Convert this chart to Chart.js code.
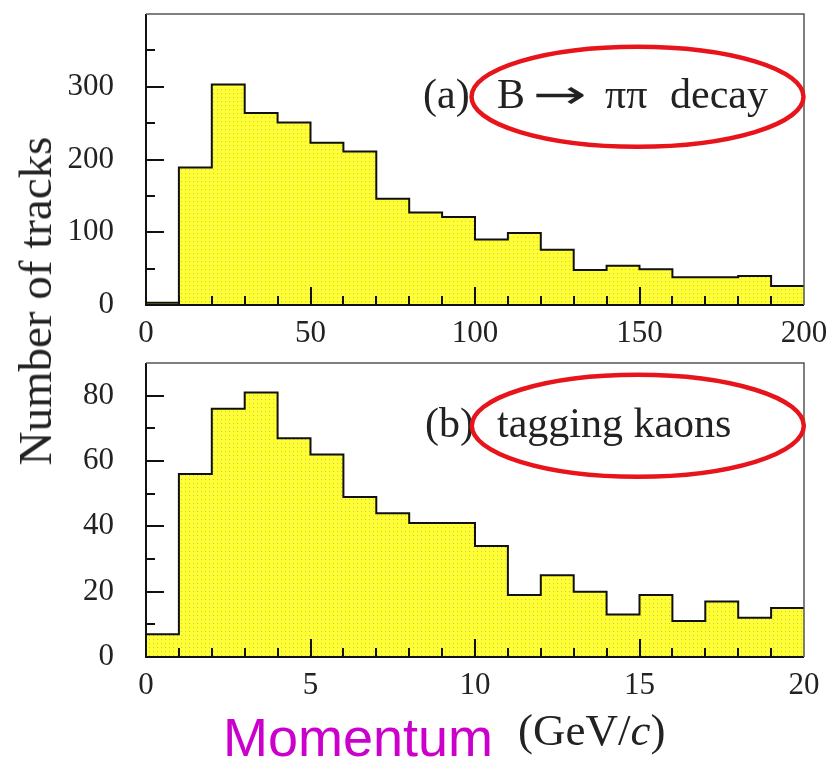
<!DOCTYPE html>
<html>
<head>
<meta charset="utf-8">
<title>Track momentum</title>
<script src="https://cdn.jsdelivr.net/npm/chart.js@4.4.1/dist/chart.umd.min.js"></script>
<style>
  body { margin: 0; background: #fff; }
  #wrap { position: relative; width: 826px; height: 760px; overflow: hidden; }
  #wrap canvas { position: absolute; left: 0; }
  .txt { position: absolute; white-space: nowrap; line-height: 1; }
  #ytitle { left: 35px; top: 301px; transform: translate(-50%, -50%) rotate(-90deg);
            font: 47px "Liberation Serif", serif; color: #222; }
  #xname { left: 223px; top: 706px; font: 54px "Liberation Sans", Arial, sans-serif; color: #cc00cc; }
  #xunit { left: 518px; top: 704px; font: 45px "Liberation Serif", serif; color: #222; }
</style>
</head>
<body>
<div id="wrap">
  <canvas id="chartA" width="826" height="350" style="top:0"></canvas>
  <canvas id="chartB" width="826" height="360" style="top:350px"></canvas>
  <div class="txt" id="ytitle">Number of tracks</div>
  <div class="txt" id="xname">Momentum</div>
  <div class="txt" id="xunit">(GeV/<i>c</i>)</div>
</div>
<script>
// (a) pions from B -> pi pi, bins of 10 GeV/c
const pionEdges = [0, 10, 20, 30, 40, 50, 60, 70, 80, 90, 100, 110, 120, 130, 140, 150, 160, 170, 180, 190];
const pionCounts = [3, 189, 303, 264, 251, 223, 211, 146, 127, 121, 90, 99, 76, 48, 54, 49, 38, 38, 40, 26];
const pionTicksX = [0, 50, 100, 150, 200];
const pionTicksY = [0, 100, 200, 300];

// (b) tagging kaons, bins of 1 GeV/c
const kaonEdges = [0, 1, 2, 3, 4, 5, 6, 7, 8, 9, 10, 11, 12, 13, 14, 15, 16, 17, 18, 19];
const kaonCounts = [7, 56, 76, 81, 67, 62, 49, 44, 41, 41, 34, 19, 25, 20, 13, 19, 11, 17, 12, 15];
const kaonTicksX = [0, 5, 10, 15, 20];
const kaonTicksY = [0, 20, 40, 60, 80];

const serif = '"Liberation Serif", "Times New Roman", serif';

// stippled yellow fill like the ROOT hatch style
function stipple() {
  const c = document.createElement('canvas');
  c.width = 4; c.height = 4;
  const g = c.getContext('2d');
  g.fillStyle = '#ffff33';
  g.fillRect(0, 0, 4, 4);
  g.fillStyle = '#c6cc66';
  g.fillRect(1, 1, 1, 1);
  return g.createPattern(c, 'repeat');
}

// frame with inward ticks, panel caption and the red ring
const rootFrame = {
  id: 'rootFrame',
  afterDraw(chart, args, o) {
    const { ctx, chartArea: a, scales: { x, y } } = chart;
    ctx.save();
    ctx.strokeStyle = '#111';
    ctx.lineWidth = 2;
    ctx.beginPath();
    for (let v = x.min + o.stepX; v < x.max - 1e-9; v += o.stepX) {
      const px = Math.round(x.getPixelForValue(v));
      const len = o.majorX.includes(Math.round(v)) ? 18 : 9;
      ctx.moveTo(px, a.bottom);
      ctx.lineTo(px, a.bottom - len);
    }
    for (let v = y.min + o.stepY; v < y.max - 1e-9; v += o.stepY) {
      const py = Math.round(y.getPixelForValue(v));
      const len = o.majorY.includes(Math.round(v)) ? 18 : 9;
      ctx.moveTo(a.left, py);
      ctx.lineTo(a.left + len, py);
    }
    ctx.stroke();

    ctx.beginPath();
    ctx.moveTo(a.left, a.top);
    ctx.lineTo(a.left, a.bottom);
    ctx.lineTo(a.right, a.bottom);
    ctx.stroke();
    ctx.strokeStyle = '#555';
    ctx.lineWidth = 1.5;
    ctx.beginPath();
    ctx.moveTo(a.left, a.top);
    ctx.lineTo(a.right, a.top);
    ctx.lineTo(a.right, a.bottom);
    ctx.stroke();

    ctx.fillStyle = '#222';
    ctx.textBaseline = 'alphabetic';
    o.caption.forEach(p => {
      ctx.save();
      ctx.font = p.font || ('42px ' + serif);
      ctx.translate(p.x, o.baseline);
      if (p.w) ctx.scale(p.w / ctx.measureText(p.text).width, 1);
      ctx.fillText(p.text, 0, 0);
      ctx.restore();
    });

    ctx.strokeStyle = '#e8141b';
    ctx.lineWidth = 4.5;
    ctx.beginPath();
    ctx.ellipse(o.ring.cx, o.ring.cy, o.ring.rx, o.ring.ry, 0, 0, Math.PI * 2);
    ctx.stroke();
    ctx.restore();
  }
};

function histogram(id, edges, counts, xMax, xStep, yMax, yStep, majorX, majorY, padTop, axisH, frame) {
  const points = edges.map((e, i) => ({ x: e, y: counts[i] }));
  points.push({ x: xMax, y: counts[counts.length - 1] });

  return new Chart(document.getElementById(id), {
    type: 'line',
    data: {
      datasets: [{
        data: points,
        stepped: 'before',
        borderColor: '#111',
        borderWidth: 2,
        backgroundColor: stipple(),
        fill: 'origin',
        pointRadius: 0
      }]
    },
    options: {
      responsive: false,
      animation: false,
      layout: { padding: { top: padTop, right: 22, left: 0, bottom: 0 } },
      plugins: {
        legend: { display: false },
        tooltip: { enabled: false },
        rootFrame: Object.assign({ majorX: majorX, majorY: majorY, stepX: xStep, stepY: yStep }, frame)
      },
      scales: {
        x: {
          type: 'linear',
          min: 0,
          max: xMax,
          grid: { display: false },
          border: { display: false },
          ticks: {
            stepSize: xStep,
            autoSkip: false,
            maxRotation: 0,
            padding: 2,
            color: '#222',
            font: { family: serif, size: 31 },
            callback: v => majorX.includes(v) ? String(v) : ''
          },
          afterFit: s => { s.height = axisH; s.paddingLeft = 0; s.paddingRight = 0; }
        },
        y: {
          min: 0,
          max: yMax,
          grid: { display: false },
          border: { display: false },
          ticks: {
            stepSize: yStep,
            autoSkip: false,
            padding: 24,
            color: '#222',
            font: { family: serif, size: 31 },
            callback: v => majorY.includes(v) ? String(v) : ''
          },
          afterFit: s => { s.width = 146; s.paddingTop = 0; s.paddingBottom = 0; }
        }
      }
    },
    plugins: [rootFrame]
  });
}

histogram('chartA', pionEdges, pionCounts, 200, 10, 400, 50, pionTicksX, pionTicksY, 14, 45, {
  baseline: 108,
  caption: [
    { text: '(a)', x: 423 },
    { text: 'B', x: 497 },
    { text: '\u2192', x: 533, w: 54, font: '40px "DejaVu Sans", sans-serif' },
    { text: '\u03c0\u03c0', x: 605 },
    { text: 'decay', x: 670 }
  ],
  ring: { cx: 637.5, cy: 96.7, rx: 166, ry: 50 }
});

histogram('chartB', kaonEdges, kaonCounts, 20, 1, 90, 10, kaonTicksX, kaonTicksY, 13, 53, {
  baseline: 87,
  caption: [
    { text: '(b)', x: 425 },
    { text: 'tagging kaons', x: 497 }
  ],
  ring: { cx: 637.8, cy: 75.8, rx: 166, ry: 51 }
});
</script>
</body>
</html>
